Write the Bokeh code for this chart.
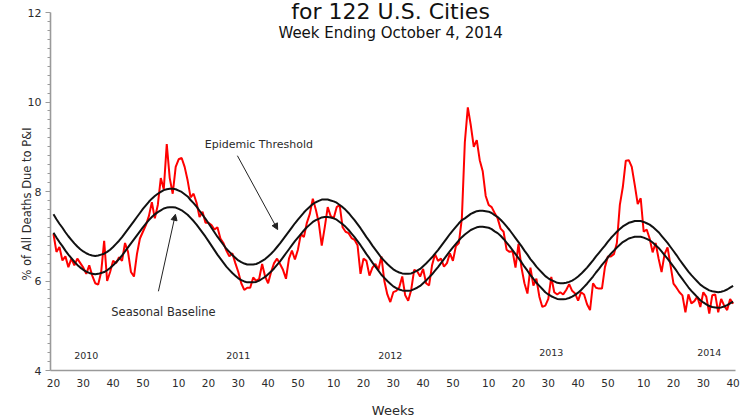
from bokeh.plotting import figure
from bokeh.models import Range1d, FixedTicker, Label, Arrow, NormalHead, Title
from bokeh.embed import file_html
from bokeh.resources import INLINE

# ---- data -------------------------------------------------------------
season_years = [2010, 2011, 2012, 2013, 2014]
first_week = [20, 1, 1, 1, 1]
last_week = [52, 52, 52, 52, 40]

pi_pct = [7.05, 6.65, 6.76, 6.46, 6.55, 6.31, 6.50, 6.35, 6.50, 6.40,
          6.30, 6.16, 6.35, 6.12, 5.95, 5.92, 6.20, 6.90, 6.00, 6.20,
          6.45, 6.40, 6.53, 6.45, 6.85, 6.65, 6.20, 6.10, 6.60, 6.95,
          7.10, 7.25, 7.45, 7.76, 7.40, 7.70, 8.30, 8.05, 9.06, 8.30,
          7.95, 8.55, 8.72, 8.75, 8.55, 8.25, 7.87, 7.95, 7.75, 7.43,
          7.55, 7.30, 7.30, 7.25, 7.15, 7.20, 6.95, 6.85, 6.68, 6.55,
          6.62, 6.40, 6.20, 5.95, 5.80, 5.85, 5.85, 6.08, 6.00, 6.05,
          6.38, 6.10, 5.95, 6.20, 6.40, 6.50, 6.38, 6.25, 6.05, 6.50,
          6.68, 6.48, 6.70, 7.05, 6.98, 7.30, 7.50, 7.84, 7.60, 7.30,
          6.79, 7.20, 7.65, 7.45, 7.40, 7.65, 7.70, 7.20, 7.10, 7.07,
          6.96, 6.92, 6.80, 6.16, 6.50, 6.45, 6.12, 6.30, 6.38, 6.25,
          6.55, 6.00, 5.70, 5.53, 5.75, 5.78, 5.86, 6.10, 5.68, 5.56,
          5.80, 6.25, 6.22, 6.10, 6.27, 5.95, 5.90, 6.35, 6.60, 6.45,
          6.50, 6.32, 6.40, 6.62, 6.45, 6.78, 6.85, 7.40, 9.10, 9.88,
          9.48, 9.00, 9.15, 8.70, 8.45, 7.90, 7.70, 7.65, 7.52, 7.40,
          7.17, 7.10, 6.70, 6.65, 6.67, 6.30, 6.83, 6.30, 5.95, 5.72,
          6.30, 5.90, 6.05, 5.65, 5.42, 5.45, 5.60, 6.09, 5.75, 5.70,
          5.75, 5.70, 5.80, 5.93, 5.78, 5.72, 5.56, 5.75, 5.70, 5.48,
          5.35, 5.95, 5.85, 5.83, 5.83, 6.31, 6.55, 6.55, 6.60, 6.85,
          7.70, 8.10, 8.69, 8.70, 8.55, 8.15, 7.72, 7.85, 7.10, 7.15,
          6.95, 6.64, 6.85, 6.50, 6.20, 6.60, 6.75, 6.35, 5.94, 5.85,
          5.75, 5.68, 5.30, 5.70, 5.50, 5.55, 5.65, 5.42, 5.75, 5.65,
          5.27, 5.68, 5.70, 5.30, 5.60, 5.45, 5.35, 5.60, 5.49]

baseline = [7.08, 6.97, 6.87, 6.78, 6.68, 6.59, 6.51, 6.43, 6.36, 6.30,
            6.25, 6.21, 6.18, 6.16, 6.15, 6.16, 6.18, 6.20, 6.24, 6.29,
            6.35, 6.42, 6.49, 6.57, 6.66, 6.75, 6.84, 6.93, 7.02, 7.11,
            7.20, 7.28, 7.36, 7.43, 7.49, 7.54, 7.58, 7.62, 7.64, 7.65,
            7.65, 7.64, 7.61, 7.58, 7.53, 7.48, 7.41, 7.34, 7.26, 7.17,
            7.08, 6.99, 6.89, 6.79, 6.69, 6.59, 6.50, 6.41, 6.32, 6.25,
            6.18, 6.12, 6.06, 6.02, 5.99, 5.97, 5.97, 5.97, 5.98, 6.01,
            6.05, 6.09, 6.15, 6.21, 6.28, 6.36, 6.44, 6.53, 6.62, 6.71,
            6.80, 6.89, 6.97, 7.05, 7.13, 7.20, 7.26, 7.32, 7.36, 7.39,
            7.42, 7.43, 7.43, 7.42, 7.40, 7.37, 7.32, 7.27, 7.21, 7.14,
            7.06, 6.98, 6.89, 6.80, 6.70, 6.60, 6.51, 6.41, 6.32, 6.23,
            6.14, 6.07, 6.00, 5.94, 5.88, 5.84, 5.81, 5.79, 5.78, 5.78,
            5.79, 5.82, 5.85, 5.89, 5.95, 6.01, 6.08, 6.15, 6.23, 6.31,
            6.40, 6.49, 6.58, 6.67, 6.75, 6.83, 6.91, 6.98, 7.04, 7.09,
            7.14, 7.17, 7.20, 7.21, 7.21, 7.20, 7.19, 7.16, 7.11, 7.07,
            7.01, 6.94, 6.86, 6.78, 6.69, 6.60, 6.51, 6.42, 6.32, 6.23,
            6.13, 6.05, 5.96, 5.89, 5.82, 5.75, 5.70, 5.66, 5.63, 5.60,
            5.59, 5.59, 5.60, 5.62, 5.65, 5.69, 5.74, 5.80, 5.87, 5.94,
            6.02, 6.10, 6.19, 6.27, 6.36, 6.44, 6.53, 6.61, 6.68, 6.75,
            6.81, 6.87, 6.91, 6.95, 6.97, 6.99, 6.99, 6.99, 6.97, 6.94,
            6.91, 6.86, 6.80, 6.74, 6.66, 6.58, 6.50, 6.41, 6.32, 6.23,
            6.13, 6.04, 5.95, 5.86, 5.78, 5.71, 5.64, 5.57, 5.52, 5.48,
            5.44, 5.42, 5.41, 5.40, 5.41, 5.43, 5.46, 5.50, 5.54]

threshold = [7.49, 7.38, 7.28, 7.19, 7.09, 7.00, 6.92, 6.84, 6.77, 6.71,
             6.66, 6.62, 6.59, 6.57, 6.56, 6.57, 6.59, 6.61, 6.65, 6.70,
             6.76, 6.83, 6.90, 6.98, 7.07, 7.16, 7.25, 7.34, 7.43, 7.52,
             7.61, 7.69, 7.77, 7.84, 7.90, 7.95, 7.99, 8.03, 8.05, 8.06,
             8.06, 8.05, 8.02, 7.99, 7.94, 7.89, 7.81, 7.74, 7.66, 7.57,
             7.48, 7.39, 7.29, 7.19, 7.09, 6.99, 6.90, 6.81, 6.72, 6.65,
             6.58, 6.52, 6.46, 6.42, 6.39, 6.37, 6.37, 6.37, 6.38, 6.41,
             6.45, 6.49, 6.55, 6.61, 6.68, 6.76, 6.84, 6.93, 7.02, 7.11,
             7.20, 7.29, 7.37, 7.45, 7.53, 7.60, 7.66, 7.72, 7.76, 7.79,
             7.82, 7.82, 7.82, 7.80, 7.78, 7.75, 7.70, 7.65, 7.59, 7.52,
             7.44, 7.36, 7.27, 7.18, 7.08, 6.98, 6.89, 6.79, 6.70, 6.61,
             6.52, 6.45, 6.38, 6.32, 6.26, 6.22, 6.19, 6.17, 6.16, 6.16,
             6.17, 6.20, 6.23, 6.27, 6.33, 6.39, 6.46, 6.53, 6.61, 6.69,
             6.78, 6.87, 6.96, 7.05, 7.13, 7.21, 7.29, 7.36, 7.40, 7.45,
             7.50, 7.53, 7.56, 7.57, 7.57, 7.56, 7.55, 7.52, 7.47, 7.43,
             7.37, 7.30, 7.22, 7.14, 7.05, 6.96, 6.87, 6.78, 6.68, 6.59,
             6.49, 6.41, 6.32, 6.25, 6.18, 6.11, 6.06, 6.02, 5.99, 5.96,
             5.95, 5.95, 5.96, 5.98, 6.01, 6.05, 6.10, 6.16, 6.23, 6.30,
             6.38, 6.46, 6.55, 6.63, 6.71, 6.79, 6.88, 6.96, 7.03, 7.10,
             7.16, 7.22, 7.26, 7.30, 7.32, 7.34, 7.34, 7.34, 7.32, 7.29,
             7.26, 7.21, 7.15, 7.09, 7.01, 6.93, 6.85, 6.76, 6.67, 6.58,
             6.48, 6.39, 6.30, 6.21, 6.13, 6.06, 5.99, 5.92, 5.87, 5.83,
             5.79, 5.77, 5.76, 5.75, 5.76, 5.78, 5.81, 5.85, 5.89]

y_ticks = [4, 6, 8, 10, 12]
week_tick_values = [10, 20, 30, 40, 50]
year_label_weeks = {2010: 31, 2011: 30, 2012: 29, 2013: 31, 2014: 32}

title_text = "for 122 U.S. Cities"
subtitle_text = "Week Ending October 4, 2014"
y_label = "% of All Deaths Due to P&I"
x_label = "Weeks"

# ---- build week index -------------------------------------------------
year_week = []
for yr, w0, w1 in zip(season_years, first_week, last_week):
    for w in range(w0, w1 + 1):
        year_week.append((yr, w))
idx = list(range(len(year_week)))

tick_pos = [i for i, (yr, w) in enumerate(year_week) if w in week_tick_values]
tick_labels = {i: str(year_week[i][1]) for i in tick_pos}

FONT = "DejaVu Sans"
TXT = "#2b2b2b"
AXC = "#9a9a9a"

# frame extends a little above 12 so the title (drawn inside) is not clipped
p = figure(width=747, height=420, output_backend="svg", toolbar_location=None,
           x_range=Range1d(-1.0, 228.8), y_range=Range1d(4, 12.246),
           min_border_left=50, min_border_right=12, min_border_top=1,
           min_border_bottom=50)
p.outline_line_color = None
p.xgrid.grid_line_color = None
p.ygrid.grid_line_color = None
p.background_fill_color = "white"
p.border_fill_color = "white"

# x axis
p.xaxis.ticker = FixedTicker(ticks=tick_pos)
p.xaxis.major_label_overrides = tick_labels
p.xaxis.major_tick_line_color = None
p.xaxis.minor_tick_line_color = None
p.xaxis.major_tick_out = 0
p.xaxis.major_tick_in = 0
p.xaxis.major_label_standoff = 8
p.xaxis.axis_line_color = AXC
p.xaxis.axis_line_width = 1.6
p.xaxis.major_label_text_font = FONT
p.xaxis.major_label_text_font_size = "10.5px"
p.xaxis.major_label_text_color = TXT
p.xaxis.axis_label = x_label
p.xaxis.axis_label_standoff = 13
p.xaxis.axis_label_text_font = FONT
p.xaxis.axis_label_text_font_size = "13px"
p.xaxis.axis_label_text_font_style = "normal"
p.xaxis.axis_label_text_color = TXT

# y axis
minor = [v / 10 for v in range(40, 121, 2) if v % 20 != 0]
p.yaxis.ticker = FixedTicker(ticks=y_ticks, minor_ticks=minor)
p.yaxis.bounds = (4, 12)
p.yaxis.axis_line_color = AXC
p.yaxis.axis_line_width = 1.6
p.yaxis.major_tick_line_color = AXC
p.yaxis.minor_tick_line_color = AXC
p.yaxis.major_tick_out = 5
p.yaxis.major_tick_in = 0
p.yaxis.minor_tick_out = 3
p.yaxis.minor_tick_in = 0
p.yaxis.major_label_standoff = 4
p.yaxis.major_label_text_font = FONT
p.yaxis.major_label_text_font_size = "11px"
p.yaxis.major_label_text_color = TXT

# y-axis title, placed as a side title so it can sit off-centre
p.add_layout(Title(text=y_label, align="left", offset=90, standoff=-19,
                   text_font=FONT, text_font_size="11.5px",
                   text_font_style="normal", text_color=TXT), "left")

# series
p.line(idx, pi_pct, line_color="#ff0000", line_width=2)
p.line(idx, baseline, line_color="#111111", line_width=2)
p.line(idx, threshold, line_color="#111111", line_width=2)

# year labels
for yr, wk in year_label_weeks.items():
    xi = year_week.index((yr, wk))
    yv = 4.33 if yr < 2013 else 4.40
    p.add_layout(Label(x=xi, y=yv, text=str(yr), text_font=FONT,
                       text_font_size="9.5px", text_color=TXT,
                       text_align="center", text_baseline="middle"))

# annotations
p.add_layout(Label(x=68.9, y=9.05, text="Epidemic Threshold", text_font=FONT,
                   text_font_size="11px", text_color=TXT,
                   text_align="center", text_baseline="middle"))
p.add_layout(Arrow(end=NormalHead(size=6, fill_color="#222222", line_color="#222222"),
                   x_start=61.7, y_start=8.80, x_end=75.2, y_end=7.15,
                   line_color="#222222", line_width=1))
p.add_layout(Label(x=36.9, y=5.30, text="Seasonal Baseline", text_font=FONT,
                   text_font_size="11.5px", text_color=TXT,
                   text_align="center", text_baseline="middle"))
p.add_layout(Arrow(end=NormalHead(size=6, fill_color="#222222", line_color="#222222"),
                   x_start=35.2, y_start=5.77, x_end=40.9, y_end=7.49,
                   line_color="#222222", line_width=1))

# titles
p.add_layout(Label(x=113.1, y=12.02, text=title_text, text_font=FONT,
                   text_font_size="22px", text_color="#111111",
                   text_align="center", text_baseline="alphabetic"))
p.add_layout(Label(x=113.1, y=11.55, text=subtitle_text, text_font=FONT,
                   text_font_size="15px", text_color="#111111",
                   text_align="center", text_baseline="alphabetic"))

open("out.html", "w").write(file_html(p, INLINE))
